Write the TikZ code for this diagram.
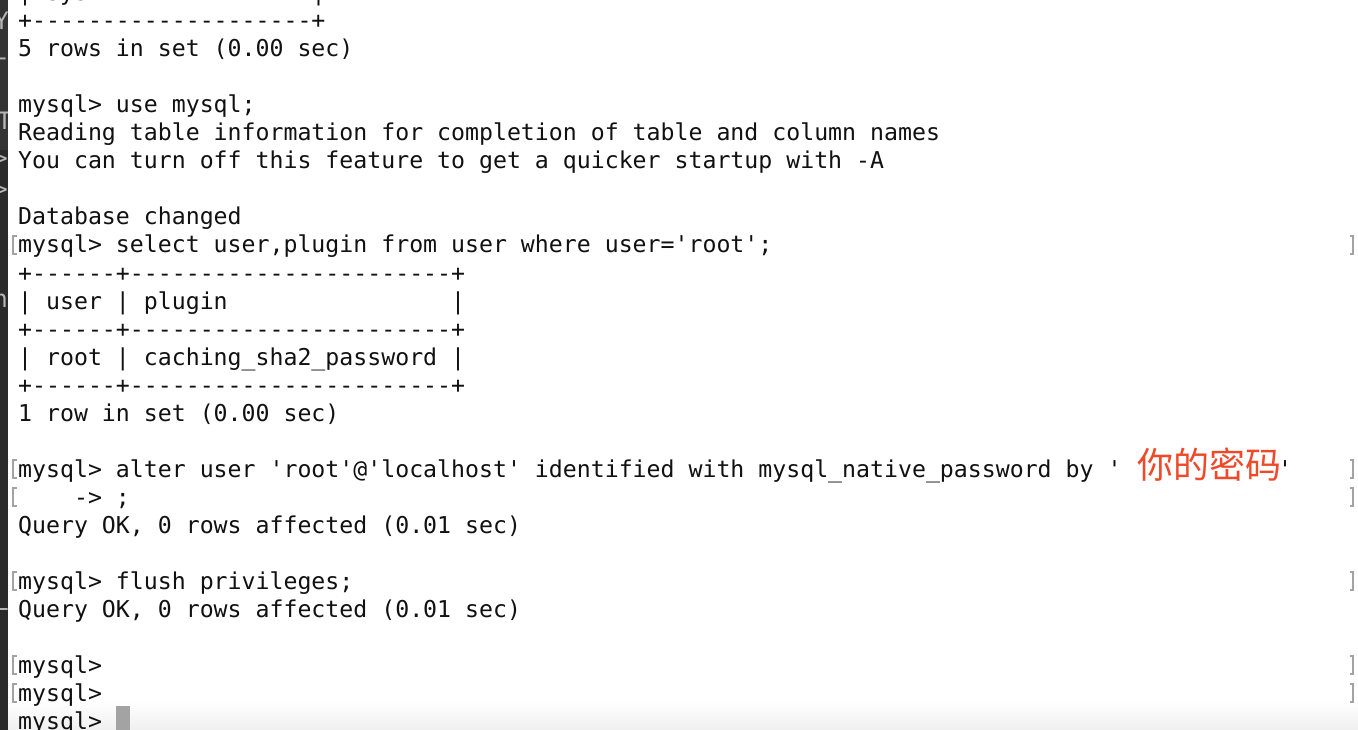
\documentclass[tikz,border=0pt]{standalone}
\usepackage{fontspec}
\setmonofont{DejaVu Sans Mono}
\newfontfamily\cjk{Noto Sans CJK SC}
\definecolor{termtext}{HTML}{111111}
\definecolor{markgray}{HTML}{A3A3A3}
\definecolor{pwred}{HTML}{EE4A2A}
\definecolor{sidebar}{HTML}{333333}
\definecolor{sidebarlow}{HTML}{2A2A2A}
\definecolor{ghost}{HTML}{B5B5B5}

\begin{document}
\begin{tikzpicture}[x=1pt, y=-1pt,
    term/.style={anchor=base west, inner sep=0pt, text=termtext,
        font=\ttfamily\frenchspacing\fontsize{23.2}{28}\selectfont},
    ghostchar/.style={anchor=base east, inner sep=0pt, text=ghost,
        font=\ttfamily\fontsize{24}{28}\selectfont},
    pw/.style={anchor=center, inner sep=0pt, text=pwred,
        font=\cjk\fontsize{36}{40}\selectfont},
    markbracket/.style={draw=markgray, line width=1.6pt},
    cursorbox/.style={fill=markgray, inner sep=0pt, minimum width=14pt, minimum height=24pt}]

        \useasboundingbox (0,0) rectangle (1358,730);
        \clip (0,0) rectangle (1358,730);
        \fill[white] (0,0) rectangle (1358,730);
        \shade[top color=white, bottom color=black!6] (7.5,701) rectangle (1358,730);

        % Window behind the terminal
        \fill[sidebar] (0,0) rectangle (7.5,150);
        \fill[sidebarlow] (0,150) rectangle (7.5,730);
        \begin{scope}
            \clip (0,0) rectangle (7.5,730);
            \node[ghostchar] (g1) at (9,30) {Y};
            \node[ghostchar] (g2) at (10,66) {-};
            \node[ghostchar] (g3) at (12,130) {T};
            \node[ghostchar] (g4) at (8,167) {>};
            \node[ghostchar] (g5) at (8,198) {>};
            \node[ghostchar] (g6) at (8,308) {h};
            \node[ghostchar] (g7) at (9,610) {L};
        \end{scope}

        % Define lines
        \node[term] (r0) at (18,1) {|~sys~~~~~~~~~~~~~~~~|};
        \node[term] (r1) at (18,29) {+--------------------+};
        \node[term] (r2) at (18,57) {5 rows in set (0.00 sec)};

        \node[term] (r4) at (18,113) {mysql> use mysql;};
        \node[term] (r5) at (18,141) {Reading table information for completion of table and column names};
        \node[term] (r6) at (18,169) {You can turn off this feature to get a quicker startup with -A};

        \node[term] (r8) at (18,225) {Database changed};
        \node[term] (r9) at (18,253) {mysql> select user,plugin from user where user='root';};
        \node[term] (r10) at (18,281) {+------+-----------------------+};
        \node[term] (r11) at (18,309) {|~user~|~plugin~~~~~~~~~~~~~~~~|};
        \node[term] (r12) at (18,337) {+------+-----------------------+};
        \node[term] (r13) at (18,365) {|~root~|~caching\_sha2\_password~|};
        \node[term] (r14) at (18,393) {+------+-----------------------+};
        \node[term] (r15) at (18,421) {1 row in set (0.00 sec)};

        \node[term] (r17) at (18,477) {mysql> alter user 'root'@'localhost' identified with mysql\_native\_password by '};
        \node[pw] (pw) at (1209.5,465) {你的密码};
        \node[term] (qclose) at (1278,477) {'};
        \node[term] (r18) at (18,505) {~~~~->~;};
        \node[term] (r19) at (18,533) {Query OK, 0 rows affected (0.01 sec)};

        \node[term] (r21) at (18,589) {mysql> flush privileges;};
        \node[term] (r22) at (18,617) {Query OK, 0 rows affected (0.01 sec)};

        \node[term] (r24) at (18,673) {mysql>};
        \node[term] (r25) at (18,701) {mysql>};
        \node[term] (r26) at (18,729) {mysql>};
        \node[cursorbox] (cursor) at (123,718) {};

        % Marks on the command lines
        \foreach \n in {9,17,18,21,24,25} {
            \draw[markbracket] (16.5,{28*\n-16}) -- ++(-3.5,0) -- ++(0,18) -- ++(3.5,0);
            \draw[markbracket] (1349.5,{28*\n-16}) -- ++(3.5,0) -- ++(0,18) -- ++(-3.5,0);
        }

    \end{tikzpicture}
\end{document}
